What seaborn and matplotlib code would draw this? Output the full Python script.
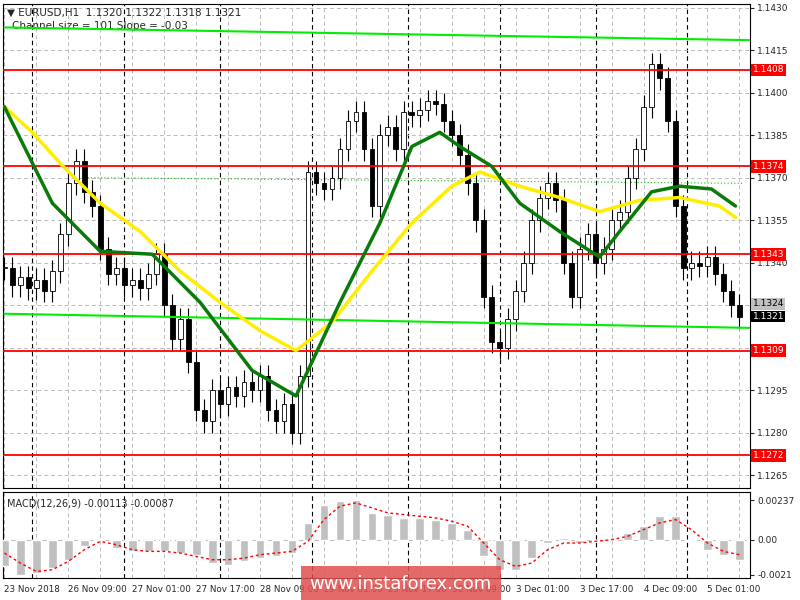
import numpy as np
import pandas as pd
import matplotlib
matplotlib.use("Agg")
import matplotlib.pyplot as plt
import seaborn as sns

sns.set_style("white")
plt.rcParams['font.family'] = ['DejaVu Sans']

# ---- data ----
closes = [1.1338,1.1332,1.1335,1.1331,1.1334,1.1330,1.1337,1.1350,1.1368,1.1376,1.1365,1.1360,
          1.1345,1.1336,1.1338,1.1332,1.1334,1.1331,1.1336,1.1343,1.1325,1.1313,1.1320,1.1305,
          1.1288,1.1284,1.1295,1.1290,1.1296,1.1293,1.1298,1.1295,1.1300,1.1288,1.1284,1.1290,
          1.1280,1.1300,1.1372,1.1368,1.1366,1.1370,1.1380,1.1390,1.1393,1.1380,1.1360,1.1385,
          1.1388,1.1380,1.1393,1.1392,1.1394,1.1397,1.1396,1.1390,1.1385,1.1378,1.1368,1.1355,
          1.1328,1.1312,1.1310,1.1320,1.1330,1.1340,1.1355,1.1363,1.1368,1.1362,1.1340,1.1328,
          1.1345,1.1350,1.1340,1.1345,1.1355,1.1358,1.1370,1.1380,1.1395,1.1410,1.1405,1.1390,
          1.1360,1.1338,1.1340,1.1339,1.1342,1.1336,1.1330,1.1325,1.1321]
green_x = [0,12,24,37,49,62,73,84,94,102,109,114,122,129,139,149,154,162,169,177,183]
green_y = [1.1395,1.1361,1.1344,1.1343,1.1326,1.1302,1.1293,1.1326,1.1354,1.1381,1.1386,1.1381,
           1.1374,1.1361,1.1351,1.1342,1.1351,1.1365,1.1367,1.1366,1.1360]
yellow_x = [0,7,14,24,34,44,54,64,73,82,92,102,112,119,129,139,149,159,169,179,183]
yellow_y = [1.1395,1.1386,1.1375,1.1361,1.1351,1.1337,1.1326,1.1316,1.1309,1.1319,1.1337,1.1354,
            1.1367,1.1372,1.1367,1.1363,1.1358,1.1362,1.1363,1.1360,1.1356]
levels = [1.1408,1.1374,1.1343,1.1309,1.1272]
macd_hist = [-0.0016,-0.0021,-0.0020,-0.0017,-0.0012,-0.0004,0.0000,-0.0005,-0.0007,-0.0007,-0.0007,
             -0.0008,-0.0009,-0.0014,-0.0015,-0.0013,-0.0011,-0.0010,-0.0008,0.0010,0.0021,0.0023,
             0.0024,0.0016,0.0015,0.0013,0.0013,0.0012,0.0010,0.0006,-0.0010,-0.0018,-0.0018,-0.0011,
             -0.0002,0.0001,-0.0002,-0.0001,0.0000,0.0004,0.0008,0.0014,0.0014,-0.0001,-0.0006,-0.0009,-0.0012]
macd_signal = [-0.0008,-0.0014,-0.0019,-0.0018,-0.0013,-0.0006,-0.0001,-0.0003,-0.0006,-0.0007,-0.0007,
               -0.0008,-0.0010,-0.0012,-0.0012,-0.0011,-0.0009,-0.0008,-0.0007,-0.0001,0.0012,0.0020,
               0.0022,0.0019,0.0016,0.0015,0.0014,0.0013,0.0011,0.0008,-0.0002,-0.0012,-0.0016,-0.0014,
               -0.0006,-0.0002,-0.0002,-0.0001,0.0000,0.0002,0.0006,0.0010,0.0012,0.0006,-0.0002,-0.0007,-0.0009]
tick_labels = ["23 Nov 2018","26 Nov 09:00","27 Nov 01:00","27 Nov 17:00","28 Nov 09:00","29 Nov 01:00",
               "29 Nov 17:00","30 Nov 09:00","3 Dec 01:00","3 Dec 17:00","4 Dec 09:00","5 Dec 01:00"]

fig = plt.figure(figsize=(8, 6), dpi=100)
ax = fig.add_axes([0.004, 0.187, 0.934, 0.807])
mx = fig.add_axes([0.004, 0.037, 0.934, 0.143])
XMAX = 186.75
for a in (ax, mx):
    a.set_xlim(-0.3, XMAX)
    for s in a.spines.values():
        s.set_color("black"); s.set_linewidth(0.8)
    for i in np.arange(0, 187, 8):
        a.axvline(i, color="#bbbbbb", ls=(0, (4, 3)), lw=0.7, zorder=0)
    for d in [7, 30, 54, 77, 101, 124, 148, 171]:
        a.axvline(d, color="black", ls=(0, (4, 3)), lw=0.8, zorder=0)
    a.yaxis.tick_right()
    a.tick_params(axis="y", labelsize=6.5, length=3, pad=2)
    a.tick_params(axis="x", labelsize=6.3, length=3, pad=2)

ax.set_ylim(1.12606, 1.14314)
yt = np.round(np.arange(1.1265, 1.1431, 0.0015), 4)
ax.set_yticks(yt)
ax.set_yticklabels(["" if v in (1.131, 1.1325) else f"{v:.4f}" for v in yt])
for v in yt:
    ax.axhline(v, color="#bbbbbb", ls=(0, (4, 3)), lw=0.7, zorder=0)
ax.set_xticks([])

# candles
xs = np.arange(len(closes)) * 2
opens = [closes[0]] + closes[:-1]
for x, o, c in zip(xs, opens, closes):
    hi, lo = max(o, c) + 0.0004, min(o, c) - 0.0004
    ax.vlines(x, lo, hi, color="black", lw=0.8, zorder=3)
    ax.bar(x, max(abs(c - o), 0.00005), bottom=min(o, c), width=1.2,
           color="white" if c >= o else "black", edgecolor="black", lw=0.6, zorder=4)

# channel
ax.plot([0, XMAX], [1.1423, 1.14185], color="#00ee00", lw=1.5, zorder=5)
ax.plot([0, XMAX], [1.1322, 1.1317], color="#00ee00", lw=1.5, zorder=5)
ax.plot([20, 185], [1.1370, 1.1368], color="#00cc00", lw=0.8, ls=(0, (1, 2)), zorder=2)

sns.lineplot(x=yellow_x, y=yellow_y, ax=ax, color="#ffee00", lw=2.5, zorder=6)
sns.lineplot(x=green_x, y=green_y, ax=ax, color="#0a7a0a", lw=2.5, zorder=7)

for lv in levels:
    ax.axhline(lv, color="#ff0000", lw=1.3, zorder=5)
    ax.text(1.003, lv, f"{lv:.4f}", transform=ax.get_yaxis_transform(), fontsize=6.5, color="white",
            va="center", ha="left", bbox=dict(boxstyle="square,pad=0.2", fc="#ff0000", ec="none"))
ax.text(1.003, 1.13255, "1.1324", transform=ax.get_yaxis_transform(), fontsize=6.5, color="black",
        va="center", ha="left", bbox=dict(boxstyle="square,pad=0.15", fc="#c0c0c0", ec="none"))
ax.text(1.003, 1.1321, "1.1321", transform=ax.get_yaxis_transform(), fontsize=6.5, color="white",
        va="center", ha="left", bbox=dict(boxstyle="square,pad=0.15", fc="black", ec="none"))

ax.text(0.005, 0.992, "▼ EURUSD,H1  1.1320 1.1322 1.1318 1.1321", transform=ax.transAxes,
        fontsize=7.5, va="top", ha="left")
ax.text(0.012, 0.965, "Channel size = 101 Slope = -0.03", transform=ax.transAxes,
        fontsize=7.5, va="top", ha="left")

# MACD
mx.set_ylim(-0.00228, 0.00285)
mxs = np.arange(len(macd_hist)) * 4
mx.bar(mxs, macd_hist, width=2.2, color="#c0c0c0", zorder=3)
sns.lineplot(x=mxs, y=macd_signal, ax=mx, color="#ff0000", lw=1.0, linestyle=(0, (2, 2)), zorder=4)
mx.axhline(0, color="#c0c0c0", ls=(0, (4, 3)), lw=0.8)
mx.set_yticks([0.00237, 0.0, -0.0021])
mx.set_yticklabels(["0.00237", "0.00", "-0.0021"])
mx.set_xticks(np.arange(0, 177, 16))
mx.set_xticklabels(tick_labels)
for lab in mx.get_xticklabels():
    lab.set_ha("left")
mx.text(0.005, 0.93, "MACD(12,26,9) -0.00113 -0.00087", transform=mx.transAxes, fontsize=7, va="top")

fig.text(0.501, 0.027, "www.instaforex.com", fontsize=13, color="white", ha="center", va="center",
         bbox=dict(boxstyle="square,pad=0.5", fc="#e05050", ec="none", alpha=0.85))

fig.savefig("out.png", dpi=100, facecolor="white")
